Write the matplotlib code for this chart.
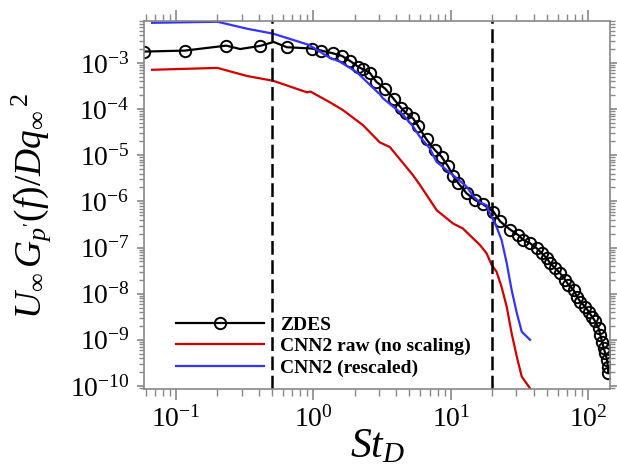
import numpy as np
import matplotlib
matplotlib.use("Agg")
import matplotlib.pyplot as plt
from matplotlib.ticker import LogLocator, NullFormatter

plt.rcParams["font.family"] = ["Liberation Serif", "DejaVu Serif"]
plt.rcParams["mathtext.fontset"] = "custom"
plt.rcParams["mathtext.rm"] = "Liberation Serif"
plt.rcParams["mathtext.it"] = "Liberation Serif:italic"
plt.rcParams["mathtext.bf"] = "Liberation Serif:bold"

# ZDES spectrum (St_D, PSD)
zdes_st = [0.058, 0.116, 0.232, 0.293, 0.41, 0.513, 0.64, 0.98, 1.14, 1.38,
           1.61, 1.85, 2.11, 2.29, 2.56, 2.87, 3.34, 3.86, 4.37, 4.75,
           5.31, 5.77, 6.65, 7.64, 8.55, 9.56, 10.4, 11.3, 13.0, 15.0,
           17.0, 20.4, 22.8, 27.0, 31.0, 33.7, 37.7, 42.2, 45.9, 50.0,
           52.8, 57.4, 62.5, 68.0, 71.8, 78.2, 82.7, 87.5, 95.1, 100.5,
           106.4, 112.5, 119.0, 122.4, 126.0, 129.4, 133.0, 136.9, 139.0, 140.0]
zdes_psd = [1.76e-3, 1.85e-3, 2.37e-3, 2.0e-3, 2.34e-3, 2.85e-3, 2.19e-3, 2.05e-3, 1.85e-3, 1.62e-3,
            1.42e-3, 1.1e-3, 8.3e-4, 7.3e-4, 6.2e-4, 3.9e-4, 2.74e-4, 1.63e-4, 1.04e-4, 8.1e-5,
            6.3e-5, 4.3e-5, 2.2e-5, 1.3e-5, 9.3e-6, 5.7e-6, 3.55e-6, 2.5e-6, 1.5e-6, 1.07e-6,
            8.8e-7, 6.0e-7, 3.7e-7, 2.45e-7, 1.86e-7, 1.46e-7, 1.24e-7, 9.6e-8, 7.5e-8, 5.85e-8,
            4.56e-8, 3.55e-8, 2.77e-8, 1.98e-8, 1.55e-8, 1.2e-8, 8.6e-9, 6.7e-9, 5.2e-9, 4.1e-9,
            3.2e-9, 2.5e-9, 1.78e-9, 1.27e-9, 9.1e-10, 6.6e-10, 5.1e-10, 3.7e-10, 2.6e-10, 1.9e-10]
# points without a circle marker (dip and peak at low St)
zdes_nomark = [3, 5]

# CNN2 raw
raw_st = [0.067, 0.2, 0.33, 0.51, 0.9, 0.95, 1.32, 1.64, 2.29, 3.04,
          3.6, 5.3, 6.0, 7.9, 10.4, 12.2, 16.3, 18.2, 19.8, 21.5,
          23.4, 25.5, 27.7, 30.2, 32.8, 37.7]
raw_psd = [7.1e-4, 7.8e-4, 5.2e-4, 4.1e-4, 2.3e-4, 2.4e-4, 1.4e-4, 9.5e-5, 4.5e-5, 1.9e-5,
           1.5e-5, 3.7e-6, 2.2e-6, 6.4e-7, 3.3e-7, 2.6e-7, 1.13e-7, 7.5e-8, 4.2e-8, 3.0e-8,
           1.4e-8, 5.2e-9, 1.38e-9, 4.3e-10, 1.6e-10, 8.9e-11]

# CNN2 rescaled
res_st = [0.067, 0.2, 0.33, 0.51, 0.93, 1.31, 1.55, 2.07, 2.56, 3.04,
          3.2, 4.0, 4.49, 5.31, 5.94, 7.03, 7.87, 9.3, 11.0, 13.0,
          14.6, 16.3, 18.2, 19.3, 21.5, 23.4, 25.5, 27.7, 30.2, 32.8, 37.7]
res_psd = [7.4e-3, 7.8e-3, 5.5e-3, 4.3e-3, 2.45e-3, 1.3e-3, 1.07e-3, 6.3e-4, 3.4e-4, 2.1e-4,
           1.72e-4, 1.0e-4, 7.5e-5, 4.2e-5, 2.53e-5, 1.41e-5, 7.2e-6, 4.8e-6, 3.2e-6, 2.1e-6,
           1.27e-6, 9.5e-7, 8.3e-7, 5.5e-7, 2.8e-7, 1.46e-7, 4.6e-8, 1.2e-8, 3.8e-9, 1.5e-9, 1.0e-9]

vlines = [0.5, 20]

fig = plt.figure(figsize=(6.17, 4.74), dpi=100)
ax = fig.add_axes([0.2326, 0.1793, 0.7561, 0.7764])

marks = [i for i in range(len(zdes_st)) if i not in zdes_nomark]
ax.plot(zdes_st, zdes_psd, color="black", lw=1.6, marker="o", mfc="none",
        mec="black", ms=8.2, mew=1.4, markevery=marks, label="ZDES")
ax.plot(raw_st, raw_psd, color="#d40000", lw=1.6, label="CNN2 raw (no scaling)")
ax.plot(res_st, res_psd, color="#3333ff", lw=1.6, label="CNN2 (rescaled)")

for v in vlines:
    ax.axvline(v, color="black", lw=1.8, ls=(0, (5.5, 2.2)))

ax.set_xscale("log")
ax.set_yscale("log")
ax.set_xlim(0.058, 144)
ax.set_ylim(8.6e-11, 8.1e-3)

ax.xaxis.set_minor_locator(LogLocator(base=10, subs=np.arange(2, 10)))
ax.yaxis.set_minor_locator(LogLocator(base=10, subs=np.arange(2, 10), numticks=30))
ax.yaxis.set_major_locator(LogLocator(base=10, numticks=30))
ax.xaxis.set_minor_formatter(NullFormatter())
ax.yaxis.set_minor_formatter(NullFormatter())

for s in ax.spines.values():
    s.set_color("#888888")
    s.set_linewidth(1.2)
ax.tick_params(which="both", direction="out", top=True, right=True,
               color="#888888", labelsize=20)
ax.tick_params(axis="x", which="major", length=8, width=1.2, pad=4)
ax.tick_params(axis="x", which="minor", length=5, width=1.0)
ax.tick_params(axis="y", which="major", length=5, width=1.2, pad=5)
ax.tick_params(axis="y", which="minor", length=3.5, width=1.0)

fig.text(0.611, 0.057, r"$St_D$", fontsize=30, ha="center", va="center")
fig.text(0.05, 0.565, r"$U_\infty\,G_{p^{\prime}}(f)/Dq_\infty{}^{\,2}$",
         fontsize=27, rotation=90, ha="center", va="center")

leg = ax.legend(loc="lower left", bbox_to_anchor=(0.0697, 0.033), frameon=False,
                prop={"weight": "bold", "size": 14}, handlelength=4.5,
                handletextpad=0.85, labelspacing=0.2, borderpad=0,
                borderaxespad=0, numpoints=1)

fig.savefig("out.png", dpi=100)
